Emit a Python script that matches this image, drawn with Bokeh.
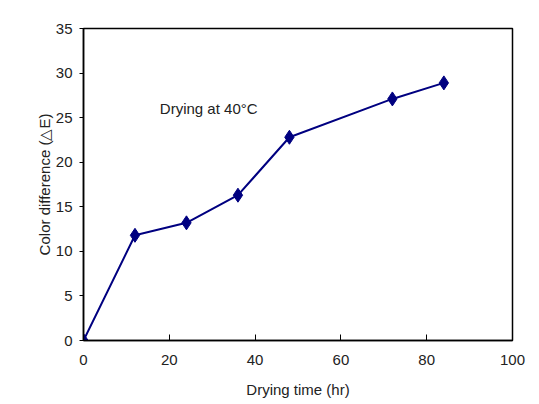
from bokeh.plotting import figure
from bokeh.models import Range1d, FixedTicker, Label
from bokeh.embed import file_html
from bokeh.resources import INLINE

hours = [0, 12, 24, 36, 48, 72, 84]
delta_e = [0, 11.8, 13.2, 16.3, 22.8, 27.1, 28.9]
x_ticks = [0, 20, 40, 60, 80, 100]
y_ticks = [0, 5, 10, 15, 20, 25, 30, 35]

FONT = "Liberation Sans Narrow, Liberation Sans, sans-serif"
COLOR = "#000080"

p = figure(width=531, height=400, output_backend="svg", toolbar_location=None,
           x_range=Range1d(0, 100), y_range=Range1d(0, 35),
           min_border_left=83, min_border_right=19, min_border_top=28, min_border_bottom=60)
p.xgrid.visible = False
p.ygrid.visible = False
p.outline_line_color = "black"
p.outline_line_width = 1.5
p.background_fill_color = "white"
p.border_fill_color = "white"

p.line(hours, delta_e, line_color=COLOR, line_width=2)
p.scatter(hours, delta_e, marker="diamond", size=14, fill_color=COLOR, line_color=COLOR)

for ax in (p.xaxis[0], p.yaxis[0]):
    ax.axis_line_color = "black"
    ax.axis_line_width = 1.5
    ax.major_tick_line_color = "black"
    ax.major_tick_line_width = 1
    ax.minor_tick_line_color = None
    ax.major_label_text_font = FONT
    ax.major_label_text_font_size = "15px"
    ax.major_label_text_color = "#222222"
    ax.axis_label_text_font = FONT
    ax.axis_label_text_font_size = "15px"
    ax.axis_label_text_font_style = "normal"
    ax.axis_label_text_color = "#222222"

p.xaxis.ticker = FixedTicker(ticks=x_ticks)
p.yaxis.ticker = FixedTicker(ticks=y_ticks)
p.xaxis.major_tick_in = 6
p.xaxis.major_tick_out = 0
p.xaxis.major_label_standoff = 14
p.xaxis.axis_label = "Drying time (hr)"
p.xaxis.axis_label_standoff = 13
p.yaxis.major_tick_in = 0
p.yaxis.major_tick_out = 4
p.yaxis.major_label_standoff = 7
p.yaxis.axis_label = "Color difference (\u25b3E)"
p.yaxis.axis_label_standoff = 0

p.add_layout(Label(x=17.8, y=26.0, text="Drying at 40\u00b0C", text_font=FONT,
                   text_font_size="15px", text_color="#222222",
                   text_baseline="middle", text_align="left"))

open("out.html", "w").write(file_html(p, INLINE))
